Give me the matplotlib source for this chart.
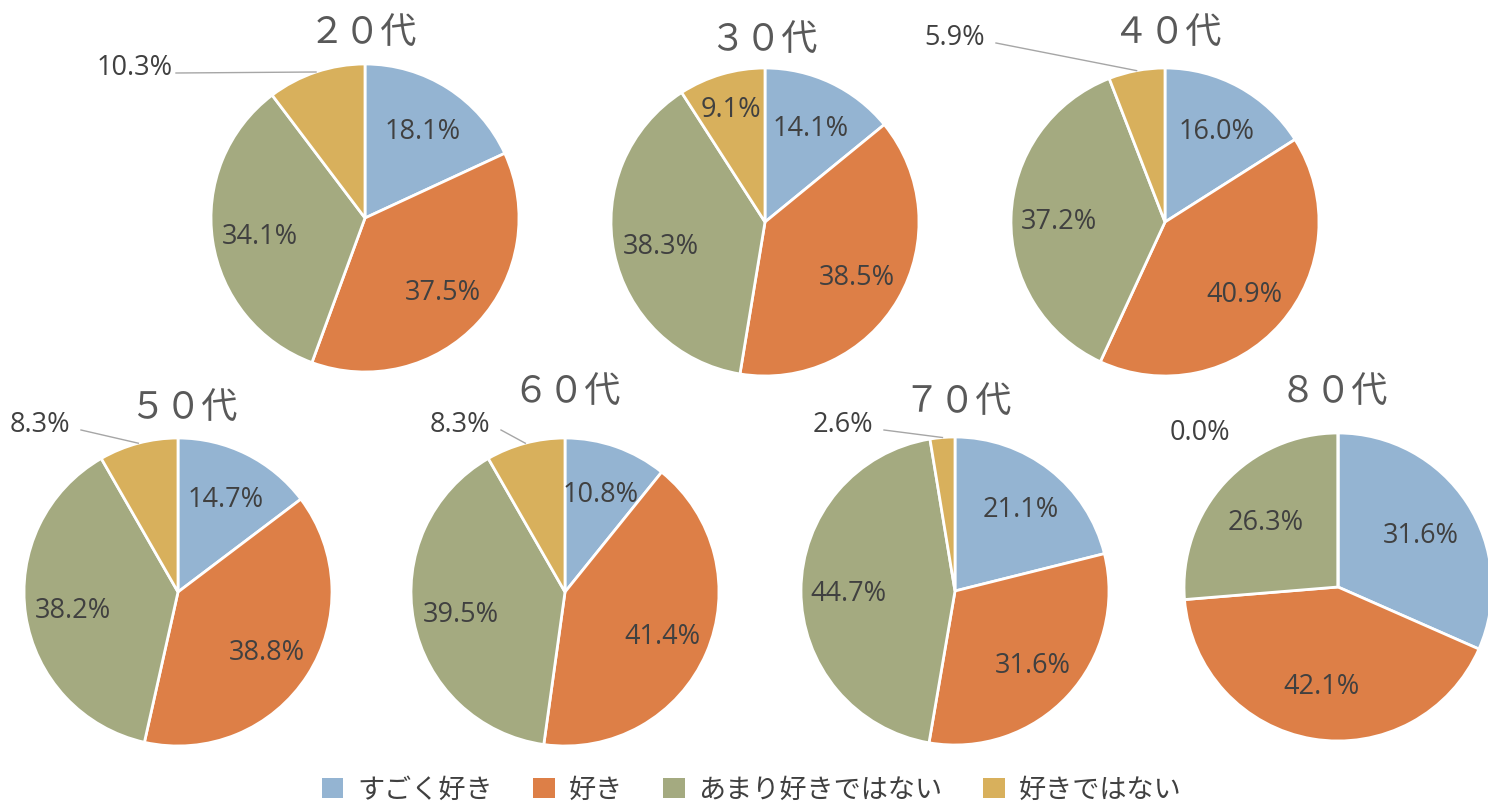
import numpy as np
import matplotlib.pyplot as plt
from matplotlib.patches import Patch

plt.rcParams['font.family'] = ['Noto Sans CJK JP', 'DejaVu Sans']

# data to plot
categories = ['すごく好き', '好き', 'あまり好きではない', '好きではない']
colors = ['#94B4D2', '#DD7F47', '#A4AA80', '#D8B05C']
ages = ['２０代', '３０代', '４０代', '５０代', '６０代', '７０代', '８０代']
vals_20 = [18.1, 37.5, 34.1, 10.3]
vals_30 = [14.1, 38.5, 38.3, 9.1]
vals_40 = [16.0, 40.9, 37.2, 5.9]
vals_50 = [14.7, 38.8, 38.2, 8.3]
vals_60 = [10.8, 41.4, 39.5, 8.3]
vals_70 = [21.1, 31.6, 44.7, 2.6]
vals_80 = [31.6, 42.1, 26.3, 0.0]
all_vals = [vals_20, vals_30, vals_40, vals_50, vals_60, vals_70, vals_80]

# layout in pixels: pie center, title center, outside label (index 3) position or None
W, H = 1488, 802
R = 154
centers = [(365, 218), (765, 222), (1165, 222), (178, 592), (565, 592), (955, 591), (1338, 587)]
title_pos = [(363, 33), (763, 40), (1167, 33), (183, 408), (567, 392), (957, 402), (1334, 392)]
outside = [(135, 68), None, (955, 38), (40, 425), (460, 425), (843, 425), (1200, 433)]
leader = [True, False, True, True, True, True, False]
# the last pie has its inside labels pulled toward the center a bit
label_dist = [0.69, 0.69, 0.69, 0.69, 0.69, 0.69, 0.64]

pct_font = dict(family=['Open Sans', 'DejaVu Sans'], fontsize=19.5, color='#404040')

fig = plt.figure(figsize=(W / 100, H / 100), dpi=100)

for i, vals in enumerate(all_vals):
    cx, cy = centers[i]
    ax = fig.add_axes([(cx - R) / W, (H - cy - R) / H, 2 * R / W, 2 * R / H])
    wedges, _ = ax.pie(vals, colors=colors, startangle=90, counterclock=False,
                       radius=1, wedgeprops=dict(edgecolor='white', linewidth=2))
    ax.set_xlim(-1, 1)
    ax.set_ylim(-1, 1)
    ax.set_aspect('equal')
    ax.axis('off')

    ang = 90.0
    for j, v in enumerate(vals):
        mid = np.deg2rad(ang - v * 3.6 / 2)
        ang -= v * 3.6
        txt = f'{v:.1f}%'
        if j == 3 and outside[i] is not None:
            tx, ty = outside[i]
            px = (tx - cx) / R
            py = (cy - ty) / R
            ax.text(px, py, txt, ha='center', va='center', clip_on=False, **pct_font)
            if leader[i]:
                ex, ey = np.cos(mid), np.sin(mid)
                sx = px + 41 / R
                sy = py - 5 / R
                ax.plot([sx, ex], [sy, ey], color='#A6A6A6', lw=1, clip_on=False)
        else:
            d = 0.78 if j == 3 else label_dist[i]
            ax.text(d * np.cos(mid), d * np.sin(mid) - 0.02, txt, ha='center', va='center',
                    **pct_font)

    tx, ty = title_pos[i]
    fig.text(tx / W, 1 - ty / H, ages[i], ha='center', va='center',
             fontsize=26, color='#595959')

handles = [Patch(facecolor=c, edgecolor='none') for c in colors]
fig.legend(handles, categories, loc='center', bbox_to_anchor=(0.505, 1 - 790 / H),
           ncol=4, frameon=False, fontsize=19.5, handlelength=0.8, handleheight=0.8,
           handletextpad=0.5, columnspacing=1.5, labelcolor='#404040')

fig.savefig('out.png', dpi=100)
